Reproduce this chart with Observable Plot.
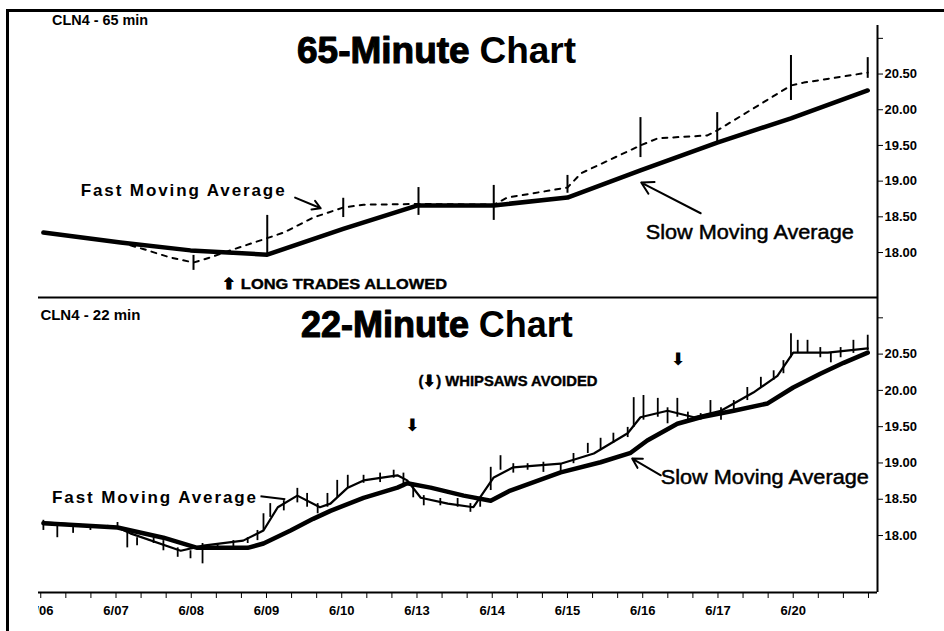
<!DOCTYPE html>
<html><head><meta charset="utf-8">
<script src="https://cdn.jsdelivr.net/npm/d3@7"></script>
<script src="https://cdn.jsdelivr.net/npm/@observablehq/plot@0.6"></script>
<style>
html,body{margin:0;padding:0;background:#fff;}
#page{position:relative;width:944px;height:631px;overflow:hidden;background:#fff;}
.wrap{position:absolute;left:38px;overflow:hidden;}
#top{top:0;width:906px;height:298px;}
#bottom{top:295px;width:906px;height:336px;}
#border{position:absolute;left:6px;top:9px;width:938px;height:622px;border-top:3px solid #000;border-left:3px solid #000;box-sizing:border-box;z-index:5;pointer-events:none;}
</style></head>
<body><div id="page"><div class="wrap" id="top"></div><div class="wrap" id="bottom"></div><div id="border"></div></div>
<script>
// ---- axis labels (trading days) ----
const dayLabels = ["6/06","6/07","6/08","6/09","6/10","6/13","6/14","6/15","6/16","6/17","6/20"];
const priceTicks = [18, 18.5, 19, 19.5, 20, 20.5, 21];

// ---- 65-minute panel ----
const slow65Day = [0.035, 1.06, 1.99, 3.01, 4.02, 5.01, 6.02, 7.00, 7.97, 8.99, 9.97, 10.99];
const slow65Val = [18.28, 18.14, 18.03, 17.97, 18.33, 18.66, 18.66, 18.77, 19.15, 19.54, 19.88, 20.27];
const fast65Day = [0.035, 1.06, 1.36, 1.72, 2.03, 2.25, 2.52, 2.92, 3.23, 3.62, 4.02, 4.29, 5.01, 6.02, 6.20, 7.00, 7.18, 7.97, 8.20, 8.86, 8.99, 9.97, 10.14, 10.99];
const fast65Val = [18.28, 18.14, 18.05, 17.93, 17.86, 17.93, 18.03, 18.17, 18.28, 18.49, 18.63, 18.67, 18.68, 18.67, 18.77, 18.91, 19.11, 19.50, 19.60, 19.64, 19.71, 20.34, 20.38, 20.52];
const bar65Day = [2.03, 3.01, 4.02, 5.02, 6.02, 7.00, 7.97, 8.99, 9.97, 10.99];
const bar65Hi  = [17.96, 18.52, 18.76, 18.91, 18.94, 19.08, 19.89, 19.96, 20.76, 20.73];
const bar65Lo  = [17.75, 17.96, 18.49, 18.52, 18.45, 18.83, 19.33, 19.53, 20.13, 20.44];

// ---- 22-minute panel ----
const slow22Day = [0.035,1.02,1.63,2.08,2.35,2.75,2.96,3.32,3.62,3.85,4.29,4.74,4.87,5.18,5.62,5.98,6.24,6.91,7.44,7.84,8.06,8.46,8.77,9.21,9.66,10.00,10.36,10.67,10.99];
const slow22Val = [18.17,18.11,17.97,17.83,17.83,17.83,17.89,18.07,18.23,18.34,18.52,18.66,18.72,18.66,18.55,18.48,18.62,18.87,19.01,19.14,19.31,19.54,19.63,19.72,19.82,20.04,20.23,20.38,20.52];
const fast22Day = [0.035,1.02,1.19,1.86,2.16,2.69,2.96,3.15,3.41,3.71,3.85,4.08,4.29,4.74,4.87,5.05,5.41,5.75,6.02,6.28,6.91,7.35,7.80,7.97,8.33,8.68,9.04,9.47,9.79,10.00,10.46,10.99];
const fast22Val = [18.18,18.11,18.03,17.79,17.86,17.93,18.07,18.39,18.55,18.39,18.44,18.66,18.76,18.83,18.76,18.52,18.44,18.39,18.80,18.94,18.99,19.13,19.41,19.63,19.72,19.63,19.72,19.97,20.20,20.52,20.52,20.58];
const bar22Day = [0.035,0.22,0.43,0.66,0.89,1.02,1.15,1.28,1.50,1.63,1.82,1.99,2.15,2.35,2.56,2.75,2.88,2.96,3.05,3.23,3.41,3.54,3.68,3.81,3.94,4.08,4.29,4.51,4.69,4.82,4.95,5.09,5.31,5.54,5.71,5.84,5.98,6.11,6.28,6.47,6.68,6.91,7.08,7.27,7.44,7.61,7.80,7.88,8.01,8.20,8.33,8.46,8.60,8.77,8.90,9.04,9.21,9.39,9.57,9.74,9.87,9.97,10.06,10.19,10.36,10.50,10.63,10.80,10.99];
const bar22Hi = [18.21,18.14,18.11,18.14,18.14,18.18,18.07,17.97,17.97,17.93,17.83,17.79,17.89,17.89,17.93,17.97,18.07,18.30,18.44,18.48,18.65,18.58,18.44,18.58,18.76,18.83,18.83,18.86,18.90,18.86,18.72,18.55,18.51,18.51,18.44,18.52,18.94,19.10,18.99,18.99,19.01,18.99,19.13,19.27,19.34,19.41,19.49,19.90,19.93,19.89,19.76,19.89,19.70,19.68,19.86,19.76,19.86,20.04,20.18,20.27,20.41,20.78,20.69,20.69,20.59,20.52,20.59,20.69,20.76];
const bar22Lo = [18.07,17.97,18.03,18.07,18.10,18.10,17.83,17.86,17.89,17.79,17.70,17.68,17.61,17.82,17.83,17.89,17.93,18.07,18.25,18.34,18.45,18.39,18.30,18.39,18.52,18.65,18.72,18.73,18.79,18.66,18.52,18.41,18.41,18.39,18.32,18.39,18.62,18.90,18.86,18.90,18.87,18.86,18.99,19.13,19.17,19.27,19.35,19.49,19.59,19.63,19.54,19.63,19.59,19.59,19.68,19.59,19.72,19.86,20.04,20.14,20.23,20.45,20.51,20.51,20.45,20.38,20.45,20.51,20.55];

// ---- build tables ----
const pts = (xs, ys) => xs.map((d, i) => ({day: d, price: ys[i]}));
const bars = (xs, hi, lo) => xs.map((d, i) => ({day: d, hi: hi[i], lo: lo[i]}));

const SANS = "'Liberation Sans', Arial, Helvetica, sans-serif";
const X_DOMAIN = [-0.03, 11.12];
const TOP_Y = [17.37, 21.18];
const BOT_Y = [17.215, 21.28];
const dayTicks = d3.range(0, 34).map(i => i / 3);
const fmtDay = t => { const i = Math.round(t); return Math.abs(t - i) < 1e-6 && i < dayLabels.length ? dayLabels[i] : ""; };
const fmtPrice = p => p >= 21 ? "" : p.toFixed(2);
const baseStyle = {background: "transparent", fontFamily: SANS, fontSize: "13px", fontWeight: "bold", color: "black"};
const txt = (o) => Object.assign({x: "day", y: "price", text: "t", textAnchor: "start", fontFamily: SANS, fill: "black"}, o);

const topPlot = Plot.plot({
  width: 906, height: 298,
  marginLeft: 0, marginRight: 67, marginTop: 25, marginBottom: 1,
  x: {domain: X_DOMAIN, axis: null},
  y: {domain: TOP_Y, axis: "right", ticks: priceTicks, tickFormat: fmtPrice, tickSize: 5, tickPadding: 2, label: null},
  style: baseStyle,
  marks: [
    Plot.ruleX([X_DOMAIN[1]], {strokeWidth: 2}),
    Plot.ruleX(bars(bar65Day, bar65Hi, bar65Lo), {x: "day", y1: "lo", y2: "hi", strokeWidth: 2}),
    Plot.line(pts(slow65Day, slow65Val), {x: "day", y: "price", strokeWidth: 4.5, strokeLinejoin: "round"}),
    Plot.line(pts(fast65Day, fast65Val), {x: "day", y: "price", strokeWidth: 2, strokeDasharray: "5,6"}),
    Plot.text([{day: 0.15, price: 21.25, t: "CLN4 - 65 min"}], txt({fontSize: 14, fontWeight: "bold"})),
    Plot.text([{day: 5.70, price: 20.82, t: "65-Minute"}], txt({textAnchor: "end", fontSize: 37, fontWeight: "bold", stroke: "black", strokeWidth: 1.1})),
    Plot.text([{day: 5.83, price: 20.82, t: "Chart"}], txt({fontSize: 37, fontWeight: "bold"})),
    Plot.text([{day: 0.53, price: 18.87, t: "Fast Moving Average"}], txt({fontSize: 17, fontWeight: "bold"})),
    Plot.arrow([{x1: 3.38, y1: 18.77, x2: 3.72, y2: 18.62}], {x1: "x1", y1: "y1", x2: "x2", y2: "y2", strokeWidth: 2, headLength: 9}),
    Plot.text([{day: 8.04, price: 18.28, t: "Slow Moving Average"}], txt({fontSize: 21, fontWeight: "normal", stroke: "black", strokeWidth: 0.5})),
    Plot.arrow([{x1: 8.77, y1: 18.55, x2: 7.98, y2: 18.98}], {x1: "x1", y1: "y1", x2: "x2", y2: "y2", strokeWidth: 2, headLength: 10}),
    Plot.text([{day: 2.41, price: 17.56, t: "\u2B06 LONG TRADES ALLOWED"}], txt({fontSize: 15, fontWeight: "bold", stroke: "black", strokeWidth: 0.4}))
  ]
});

const botPlot = Plot.plot({
  width: 906, height: 336,
  marginLeft: 0, marginRight: 67, marginTop: 2, marginBottom: 39,
  x: {domain: X_DOMAIN, ticks: dayTicks, tickFormat: fmtDay, tickSize: 6, tickPadding: 7, label: null},
  y: {domain: BOT_Y, axis: "right", ticks: priceTicks, tickFormat: fmtPrice, tickSize: 5, tickPadding: 2, label: null},
  style: baseStyle,
  marks: [
    Plot.ruleY([BOT_Y[1]], {strokeWidth: 2}),
    Plot.ruleY([BOT_Y[0]], {strokeWidth: 2}),
    Plot.ruleX([X_DOMAIN[1]], {strokeWidth: 2}),
    Plot.ruleX(bars(bar22Day, bar22Hi, bar22Lo), {x: "day", y1: "lo", y2: "hi", strokeWidth: 1.8}),
    Plot.line(pts(fast22Day, fast22Val), {x: "day", y: "price", strokeWidth: 2.2}),
    Plot.line(pts(slow22Day, slow22Val), {x: "day", y: "price", strokeWidth: 4.5, strokeLinejoin: "round"}),
    Plot.text([{day: -0.005, price: 21.03, t: "CLN4 - 22 min"}], txt({fontSize: 14, fontWeight: "bold"})),
    Plot.text([{day: 5.69, price: 20.89, t: "22-Minute"}], txt({textAnchor: "end", fontSize: 36, fontWeight: "bold", stroke: "black", strokeWidth: 1.1})),
    Plot.text([{day: 5.82, price: 20.89, t: "Chart"}], txt({fontSize: 36, fontWeight: "bold"})),
    Plot.text([{day: 5.02, price: 20.12, t: "(\u2B07) WHIPSAWS AVOIDED"}], txt({fontSize: 15, fontWeight: "bold", stroke: "black", strokeWidth: 0.4})),
    Plot.text([{day: 4.94, price: 19.52}, {day: 8.47, price: 20.42}], {x: "day", y: "price", text: () => "\u2B07", fill: "black", fontFamily: "'DejaVu Sans', sans-serif", fontSize: 17, fontWeight: "bold"}),
    Plot.text([{day: 0.15, price: 18.52, t: "Fast Moving Average"}], txt({fontSize: 17, fontWeight: "bold"})),
    Plot.link([{x1: 2.92, y1: 18.54, x2: 3.25, y2: 18.50}], {x1: "x1", y1: "y1", x2: "x2", y2: "y2", strokeWidth: 2}),
    Plot.text([{day: 8.24, price: 18.80, t: "Slow Moving Average"}], txt({fontSize: 21, fontWeight: "normal", stroke: "black", strokeWidth: 0.5})),
    Plot.arrow([{x1: 8.24, y1: 18.83, x2: 7.86, y2: 19.06}], {x1: "x1", y1: "y1", x2: "x2", y2: "y2", strokeWidth: 2, headLength: 8})
  ]
});

document.getElementById("top").appendChild(topPlot);
document.getElementById("bottom").appendChild(botPlot);

// fit text widths to the reference (condensed / spaced-out lettering)
const fits = {
  "CLN4 - 65 min": [96, "spacingAndGlyphs"],
  "CLN4 - 22 min": [100, "spacingAndGlyphs"],
  "Fast Moving Average": [204, "spacing"],
  "Slow Moving Average": [208, "spacingAndGlyphs"],
  "\u2B06 LONG TRADES ALLOWED": [225, "spacingAndGlyphs"],
  "(\u2B07) WHIPSAWS AVOIDED": [179, "spacingAndGlyphs"]
};
d3.selectAll("#page text").each(function () {
  const f = fits[this.textContent];
  if (f) { this.setAttribute("textLength", f[0]); this.setAttribute("lengthAdjust", f[1]); }
});
</script></body></html>
